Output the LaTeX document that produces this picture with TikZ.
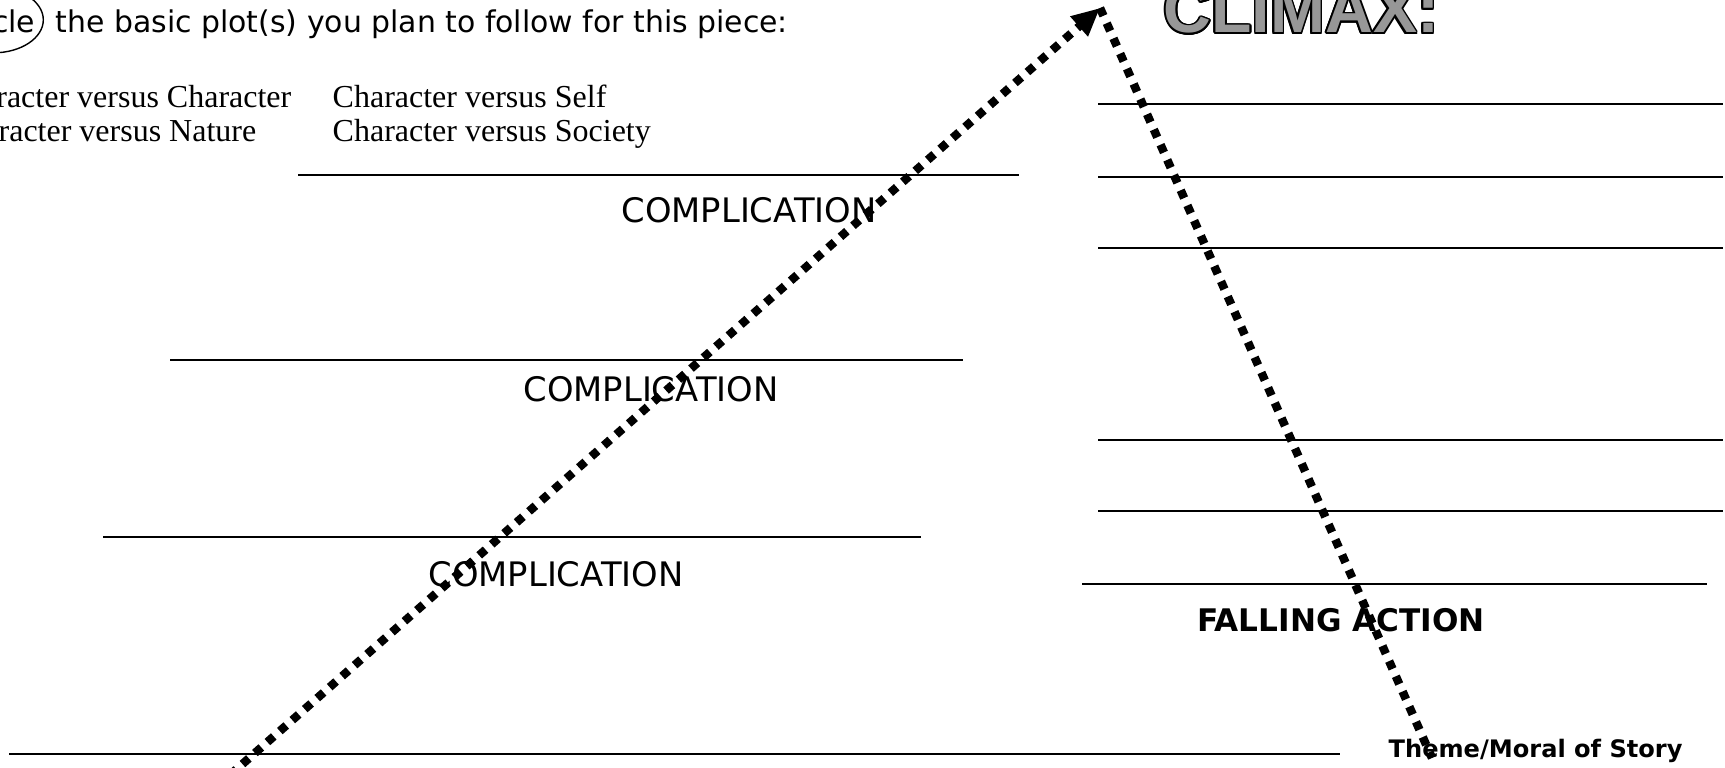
\documentclass[tikz,border=0pt]{standalone}
\usepackage{fontspec}
\setmainfont{Liberation Serif}
\newfontfamily\handfont{DejaVu Sans}
\newfontfamily\headfont{Liberation Sans}
\usepackage{contour}
\usetikzlibrary{arrows.meta,positioning,shapes.geometric}
\definecolor{climaxgray}{HTML}{979797}
\contourlength{0.5pt}

\begin{document}
\begin{tikzpicture}[x=0.01cm,y=-0.01cm,>={Triangle[length=0.28cm,width=0.25cm]},
      hand/.style={font=\handfont\fontsize{9.6}{12}\selectfont,inner sep=0pt},
      handbold/.style={font=\handfont\bfseries\fontsize{8.85}{11}\selectfont,inner sep=0pt},
      plots/.style={font=\fontsize{9.1}{11}\selectfont,inner sep=0pt},
      writeline/.style={line width=0.6pt},
      plotline/.style={line width=2.4pt,dash pattern=on 0.085cm off 0.081cm}]
    \useasboundingbox (0,0) rectangle (1725,767);
    \clip (0,0) rectangle (1725,767);
    % heading and plot types
    \node[hand,font=\handfont\fontsize{8.5}{11}\selectfont,anchor=base west] (plan) at (55,33) {the basic plot(s) you plan to follow for this piece:};
    \node[hand,font=\handfont\fontsize{8.5}{11}\selectfont,base left=0.19cm of plan] (circ) {Circle};
    \draw (circ.center) ++(0,-2) ellipse [x radius=50, y radius=33];
    \node[plots,anchor=base east] (cc) at (292,107) {Character versus Character};
    \node[plots,anchor=base east] (cn) at (257,142) {Character versus Nature};
    \node[plots,anchor=base west] (cs) at (332,107) {Character versus Self};
    \node[plots,anchor=base west] (csoc) at (332,142) {Character versus Society};
    \node[anchor=base west,inner sep=0pt,font=\headfont\bfseries\fontsize{18.8}{20}\selectfont] (climax) at (1163,33) {\contour{black}{\textcolor{climaxgray}{CLIMAX:}}};
    % rising side
    \draw[writeline] (298,175) -- (1019,175);
    \draw[writeline] (170,360) -- (963,360);
    \draw[writeline] (103,537) -- (921,537);
    \draw[writeline] (9,754) -- (1340,754);
    \node[hand] (comp1) at (749,210) {COMPLICATION};
    \node[hand] (comp2) at (651,389) {COMPLICATION};
    \node[hand] (comp3) at (556,574) {COMPLICATION};
    % falling side
    \draw[writeline] (1098,104) -- (1723,104);
    \draw[writeline] (1098,177) -- (1723,177);
    \draw[writeline] (1098,248) -- (1723,248);
    \draw[writeline] (1098,440) -- (1723,440);
    \draw[writeline] (1098,511) -- (1723,511);
    \draw[writeline] (1082,584) -- (1707,584);
    \node[handbold] (fall) at (1341,620) {FALLING ACTION};
    \node[handbold,font=\handfont\bfseries\fontsize{6.85}{9}\selectfont,anchor=base west] (theme) at (1388,757) {Theme/Moral of Story};
    % plot arrows
    \coordinate (start) at (230,775);
    \coordinate (peak) at (1100,8);
    \coordinate (end) at (1432,758);
    \draw[plotline,->] (start) -- (peak);
    \draw[plotline] (peak) -- (end);
  \end{tikzpicture}
\end{document}
